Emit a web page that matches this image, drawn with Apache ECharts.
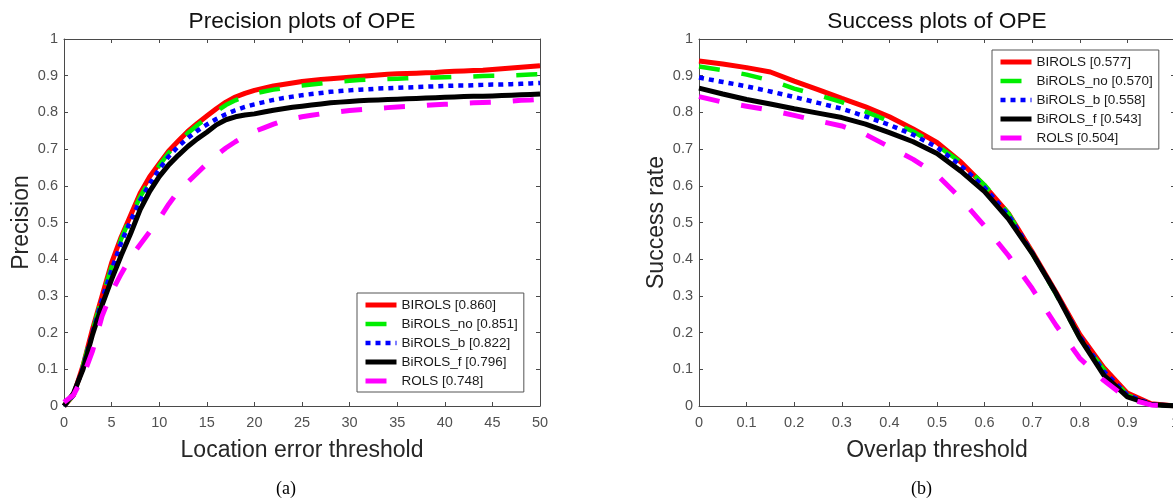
<!DOCTYPE html>
<html>
<head>
<meta charset="utf-8">
<script src="https://cdn.jsdelivr.net/npm/echarts@6/dist/echarts.min.js"></script>
<style>
html,body{margin:0;padding:0;background:#fff;}
#chart{width:1173px;height:499px;}
</style>
</head>
<body>
<div id="chart"></div>
<script>
// ---------- data ----------
const precisionX = [0,1,2,3,4,5,6,7,8,9,10,11,12,13,14,15,16,17,18,19,20,21,22,23,24,25,26,27,28,29,30,31,32,33,34,35,36,37,38,39,40,41,42,43,44,45,46,47,48,49,50];
const precisionNames = ['BIROLS [0.860]','BiROLS_no [0.851]','BiROLS_b [0.822]','BiROLS_f [0.796]','ROLS [0.748]'];
const precBIROLS   = [0,0.03,0.11,0.21,0.30,0.39,0.46,0.52,0.58,0.625,0.66,0.695,0.722,0.748,0.77,0.79,0.81,0.828,0.842,0.852,0.86,0.866,0.872,0.876,0.88,0.884,0.887,0.89,0.892,0.894,0.896,0.898,0.900,0.902,0.904,0.905,0.906,0.907,0.908,0.909,0.911,0.912,0.913,0.914,0.915,0.917,0.919,0.921,0.923,0.925,0.927];
const precBiROLSno = [0,0.03,0.11,0.205,0.295,0.38,0.455,0.515,0.57,0.615,0.655,0.69,0.717,0.743,0.765,0.785,0.803,0.82,0.833,0.843,0.851,0.857,0.862,0.866,0.87,0.873,0.876,0.879,0.882,0.884,0.886,0.888,0.889,0.890,0.891,0.892,0.893,0.894,0.895,0.895,0.896,0.897,0.897,0.898,0.899,0.900,0.900,0.901,0.902,0.903,0.904];
const precBiROLSb  = [0,0.03,0.105,0.2,0.29,0.37,0.445,0.505,0.56,0.605,0.645,0.68,0.707,0.73,0.75,0.767,0.782,0.795,0.806,0.815,0.822,0.828,0.834,0.839,0.843,0.847,0.85,0.853,0.856,0.858,0.86,0.862,0.863,0.865,0.866,0.867,0.868,0.869,0.87,0.871,0.872,0.873,0.873,0.874,0.875,0.876,0.876,0.877,0.878,0.879,0.88];
const precBiROLSf  = [0,0.035,0.1,0.195,0.275,0.345,0.41,0.47,0.535,0.585,0.625,0.657,0.683,0.707,0.728,0.746,0.766,0.78,0.788,0.793,0.796,0.801,0.806,0.81,0.814,0.817,0.82,0.823,0.826,0.828,0.83,0.832,0.833,0.834,0.835,0.836,0.837,0.838,0.839,0.84,0.841,0.842,0.843,0.844,0.844,0.845,0.846,0.847,0.848,0.849,0.85];
const precROLS     = [0.01,0.03,0.08,0.15,0.245,0.31,0.36,0.405,0.44,0.475,0.51,0.55,0.585,0.61,0.635,0.66,0.683,0.703,0.72,0.735,0.748,0.758,0.768,0.777,0.783,0.788,0.792,0.796,0.799,0.802,0.805,0.807,0.809,0.811,0.813,0.815,0.816,0.818,0.819,0.821,0.822,0.823,0.825,0.826,0.827,0.828,0.83,0.831,0.833,0.834,0.836];

const successX = [0,0.05,0.1,0.15,0.2,0.25,0.3,0.35,0.4,0.45,0.5,0.55,0.6,0.65,0.7,0.75,0.8,0.85,0.9,0.95,1];
const successNames = ['BIROLS [0.577]','BiROLS_no [0.570]','BiROLS_b [0.558]','BiROLS_f [0.543]','ROLS [0.504]'];
const succBIROLS   = [0.94,0.932,0.922,0.91,0.885,0.862,0.838,0.815,0.788,0.755,0.718,0.665,0.6,0.525,0.42,0.31,0.195,0.105,0.035,0.006,0];
const succBiROLSno = [0.925,0.915,0.903,0.887,0.865,0.847,0.828,0.802,0.776,0.748,0.71,0.664,0.602,0.525,0.416,0.305,0.185,0.1,0.03,0.004,0];
const succBiROLSb  = [0.895,0.883,0.871,0.857,0.842,0.826,0.81,0.789,0.766,0.739,0.705,0.655,0.595,0.52,0.418,0.307,0.19,0.095,0.03,0.005,0];
const succBiROLSf  = [0.866,0.85,0.835,0.823,0.81,0.798,0.786,0.768,0.745,0.72,0.688,0.64,0.584,0.51,0.416,0.307,0.185,0.085,0.025,0.004,0];
const succROLS     = [0.843,0.828,0.817,0.806,0.792,0.777,0.763,0.74,0.706,0.672,0.63,0.565,0.49,0.41,0.32,0.22,0.13,0.07,0.02,0.003,0];

// ---------- styles ----------
const SANS = '"Liberation Sans", Arial, Helvetica, sans-serif';
const SERIF = '"Liberation Serif", "Times New Roman", serif';
const AXIS_COLOR = '#4a4a4a';
const LABEL_COLOR = '#505050';
const NAME_COLOR = '#262626';
const lineStyles = [
  {color:'#ff0000', width:5, type:'solid'},
  {color:'#00ee00', width:4.5, type:[21,22]},
  {color:'#0000ff', width:4.5, type:[5,5]},
  {color:'#000000', width:5, type:'solid'},
  {color:'#ff00ff', width:5, type:[21,22]}
];
const precSeries = [precBIROLS, precBiROLSno, precBiROLSb, precBiROLSf, precROLS];
const succSeries = [succBIROLS, succBiROLSno, succBiROLSb, succBiROLSf, succROLS];

function pairs(xs, ys){ return xs.map((x,i)=>[x, ys[i]]); }

function xAxisPair(g, min, max, interval, name){
  const base = {
    type:'value', gridIndex:g, min:min, max:max, interval:interval,
    splitLine:{show:false},
    axisLine:{show:true, onZero:false, lineStyle:{color:AXIS_COLOR, width:1}},
    axisTick:{show:true, inside:true, length:4, lineStyle:{color:AXIS_COLOR, width:1}}
  };
  return [
    Object.assign({}, base, {
      position:'bottom',
      axisLabel:{show:true, color:LABEL_COLOR, fontSize:14.5, fontFamily:SANS, margin:9, showMinLabel:true, showMaxLabel:true, hideOverlap:false},
      name:name, nameLocation:'middle', nameGap:33, nameMoveOverlap:false,
      nameTextStyle:{fontSize:23, color:NAME_COLOR, fontFamily:SANS}
    }),
    Object.assign({}, base, {position:'top', axisLabel:{show:false}})
  ];
}
function yAxisPair(g, name){
  const base = {
    type:'value', gridIndex:g, min:0, max:1, interval:0.1,
    splitLine:{show:false},
    axisLine:{show:true, onZero:false, lineStyle:{color:AXIS_COLOR, width:1}},
    axisTick:{show:true, inside:true, length:4, lineStyle:{color:AXIS_COLOR, width:1}}
  };
  return [
    Object.assign({}, base, {
      position:'left',
      axisLabel:{show:true, color:LABEL_COLOR, fontSize:14.5, fontFamily:SANS, margin:6, showMinLabel:true, showMaxLabel:true, hideOverlap:false},
      name:name, nameLocation:'middle', nameGap:31, nameMoveOverlap:false,
      nameTextStyle:{fontSize:23, color:NAME_COLOR, fontFamily:SANS}
    }),
    Object.assign({}, base, {position:'right', axisLabel:{show:false}})
  ];
}

const series = [];
precSeries.forEach((ys,i)=>{
  series.push({
    name:precisionNames[i], type:'line', xAxisIndex:0, yAxisIndex:0,
    data:pairs(precisionX, ys), symbol:'none', showSymbol:false, smooth:false,
    lineStyle:{color:lineStyles[i].color, width:lineStyles[i].width, type:lineStyles[i].type, cap:'butt'},
    itemStyle:{color:lineStyles[i].color}, z:2+i
  });
});
succSeries.forEach((ys,i)=>{
  series.push({
    name:successNames[i], type:'line', xAxisIndex:2, yAxisIndex:2,
    data:pairs(successX, ys), symbol:'none', showSymbol:false, smooth:false,
    lineStyle:{color:lineStyles[i].color, width:lineStyles[i].width, type:lineStyles[i].type, cap:'butt'},
    itemStyle:{color:lineStyles[i].color}, z:2+i
  });
});

function legendFor(names, left, top){
  return {
    data:names.map((n,i)=>({name:n, lineStyle:{width:lineStyles[i].width, type:lineStyles[i].type, color:lineStyles[i].color}, itemStyle:{opacity:0}})),
    orient:'vertical', left:left, top:top,
    itemWidth:31, itemHeight:14, itemGap:5,
    padding:[5,6,4,6],
    borderColor:'#555', borderWidth:1, backgroundColor:'#fff',
    textStyle:{fontSize:13.5, color:'#1a1a1a', fontFamily:SANS},
    itemStyle:{opacity:0},
    selectedMode:false, z:10
  };
}

const option = {
  animation:false,
  backgroundColor:'#fff',
  title:[
    {text:'Precision plots of OPE', left:302, textAlign:'center', top:10, padding:0,
     textStyle:{fontSize:22.7, fontWeight:'normal', color:'#111', fontFamily:SANS}},
    {text:'Success plots of OPE', left:937, textAlign:'center', top:10, padding:0,
     textStyle:{fontSize:22.7, fontWeight:'normal', color:'#111', fontFamily:SANS}}
  ],
  grid:[
    {left:64, top:39, width:476, height:367, containLabel:false, outerBoundsMode:'none'},
    {left:699, top:39, width:476, height:367, containLabel:false, outerBoundsMode:'none'}
  ],
  xAxis:[].concat(xAxisPair(0,0,50,5,'Location error threshold'), xAxisPair(1,0,1,0.1,'Overlap threshold')),
  yAxis:[].concat(yAxisPair(0,'Precision'), yAxisPair(1,'Success rate')),
  legend:[legendFor(precisionNames,357,293), legendFor(successNames,992,50)],
  series:series,
  graphic:[
    {type:'text', left:276, top:480, style:{text:'(a)', font:'18px ' + SERIF, fill:'#000'}},
    {type:'text', left:911, top:480, style:{text:'(b)', font:'18px ' + SERIF, fill:'#000'}}
  ]
};

const chart = echarts.init(document.getElementById('chart'), null, {renderer:'canvas'});
chart.setOption(option);
</script>
</body>
</html>
